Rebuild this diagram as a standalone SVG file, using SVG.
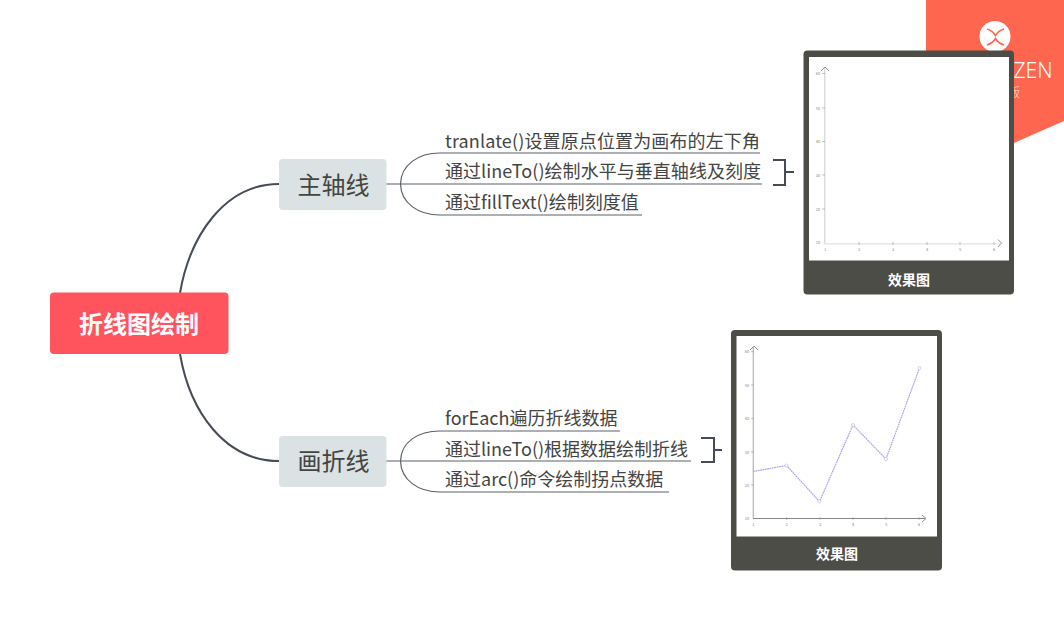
<svg xmlns="http://www.w3.org/2000/svg" width="1064" height="621" viewBox="0 0 1064 621">
<style>
text{font-family:"Noto Sans CJK SC","Liberation Sans",sans-serif}
.leaf{font-size:18px;fill:#444442}
.main{font-size:24px;fill:#444442;text-anchor:middle}
.cap{font-size:14px;font-weight:700;fill:#fff;text-anchor:middle}
.thick{fill:none;stroke:#454c55;stroke-width:2}
.thin{fill:none;stroke:#5a6068;stroke-width:1.2}
.brk{fill:none;stroke:#454c55;stroke-width:2}
.card{fill:#4d4d47}
.arr{fill:none;stroke:#666;stroke-width:.7}
.tk{font-size:4px;fill:#888;text-anchor:middle}
.tick{fill:none;stroke:#999;stroke-width:.6}
.pt{fill:#fff;stroke:#c6c2f0;stroke-width:.8}
</style>
<g id="badge">
<polygon points="926,0 1064,0 1064,121 1014,143 926,143" fill="#ff6650"/>
<circle cx="995" cy="36.500" r="15.500" fill="#fff"/>
<path d="M987,29 Q993,31 995.500,35.500 Q998,31 1004,29 M987,45 Q993,43 995.500,38.500 Q998,43 1004,45" fill="none" stroke="#ff6650" stroke-width="1.600"/>
<text x="1052.500" y="78" font-size="21" font-weight="300" fill="#fff" text-anchor="end" style="font-family:'Noto Sans','Liberation Sans',sans-serif">ZEN</text>
<text x="1008" y="97" font-size="12" font-weight="300" fill="#ffe3dd">版</text>
</g>
<g id="connectors">
<path class="thick" d="M180,293 C190,235 225,184 279,184"/>
<path class="thick" d="M180,354 C190,412 225,461 279,461"/>
<path class="thin" d="M386,184 H762"/>
<path class="thin" d="M400.500,184 C401,165 418,153 440,153 H760"/>
<path class="thin" d="M400.500,184 C401,203 418,215 440,215 H642"/>
<path class="thin" d="M386,461 H691"/>
<path class="thin" d="M400.500,461 C401,442 418,431 440,431 H620"/>
<path class="thin" d="M400.500,461 C401,480 418,492 440,492 H669"/>
<path class="brk" d="M773,160 H785 V185 H773 M785,172 H794"/>
<path class="brk" d="M701,438 H714 V462 H701 M714,450 H722"/>
</g>
<g id="root">
<rect x="50" y="292.500" width="178.500" height="61.500" rx="4" fill="#ff535d"/>
<text x="139" y="333" font-size="24" font-weight="700" fill="#fff" text-anchor="middle">折线图绘制</text>
</g>
<g id="topic-axis">
<rect x="279" y="159" width="107.500" height="51" rx="4" fill="#dae2e3"/>
<text class="main" x="333.500" y="194">主轴线</text>
</g>
<g id="topic-line">
<rect x="279" y="436" width="107.500" height="51" rx="4" fill="#dae2e3"/>
<text class="main" x="333.500" y="470">画折线</text>
</g>
<g id="leaf-1"><text class="leaf" x="445" y="148" textLength="315">tranlate()设置原点位置为画布的左下角</text></g>
<g id="leaf-2"><text class="leaf" x="445" y="178" textLength="316">通过lineTo()绘制水平与垂直轴线及刻度</text></g>
<g id="leaf-3"><text class="leaf" x="445" y="209">通过fillText()绘制刻度值</text></g>
<g id="leaf-4"><text class="leaf" x="445" y="425">forEach遍历折线数据</text></g>
<g id="leaf-5"><text class="leaf" x="445" y="456">通过lineTo()根据数据绘制折线</text></g>
<g id="leaf-6"><text class="leaf" x="445" y="486">通过arc()命令绘制拐点数据</text></g>
<g id="card-axis">
<rect class="card" x="803.500" y="50.500" width="210.500" height="244" rx="4"/>
<rect x="809" y="57" width="200" height="203.500" fill="#fff"/>
<path d="M824.700,68 V243.500" fill="none" stroke="#dcdcdc" stroke-width="1.500"/>
<path d="M824,243.800 H1000" fill="none" stroke="#e8e8e8" stroke-width="1.500"/>
<path class="arr" d="M821,71 L825,67 L829,71 M998,239.500 L1001.500,243 L998,247"/>
<path class="tick" d="M822,73.500 H825 M822,108 H825 M822,141.500 H825 M822,175 H825 M822,209 H825 M859,242 V245 M893,242 V245 M927,242 V245 M960,242 V245 M994,242 V245"/>
<g class="tks">
<text class="tk" x="818" y="75">60</text><text class="tk" x="818" y="110">50</text><text class="tk" x="818" y="143">40</text><text class="tk" x="818" y="177">30</text><text class="tk" x="818" y="211">20</text><text class="tk" x="818" y="244">10</text>
<text class="tk" x="825" y="251">1</text><text class="tk" x="859" y="251">2</text><text class="tk" x="893" y="251">3</text><text class="tk" x="927" y="251">4</text><text class="tk" x="960" y="251">5</text><text class="tk" x="994" y="251">6</text>
</g>
<text class="cap" x="909" y="285">效果图</text>
</g>
<g id="card-line">
<rect class="card" x="731" y="330" width="211" height="240.500" rx="4"/>
<rect x="736.500" y="336" width="200.500" height="200.500" fill="#fff"/>
<path d="M753.300,347 V518.500" fill="none" stroke="#b4b4b4" stroke-width="1.200"/>
<path d="M753,518.500 H925" fill="none" stroke="#888" stroke-width="1"/>
<path class="arr" d="M750,350 L754,346 L758,350 M922,515 L926,518.500 L922,522"/>
<path class="tick" d="M751,351.700 H754 M751,385 H754 M751,418.700 H754 M751,452 H754 M751,485 H754 M786.700,517 V520 M820,517 V520 M853,517 V520 M886,517 V520 M919,517 V520"/>
<g class="tks">
<text class="tk" x="747" y="353">60</text><text class="tk" x="747" y="387">50</text><text class="tk" x="747" y="420">40</text><text class="tk" x="747" y="454">30</text><text class="tk" x="747" y="487">20</text><text class="tk" x="747" y="520">10</text>
<text class="tk" x="753.300" y="526">1</text><text class="tk" x="786.700" y="526">2</text><text class="tk" x="820" y="526">3</text><text class="tk" x="853" y="526">4</text><text class="tk" x="886" y="526">5</text><text class="tk" x="919" y="526">6</text>
</g>
<polyline points="753,471.500 786.500,465.500 819.500,501.500 853,425 886,459 919.500,368" fill="none" stroke="#aaa4ec" stroke-width="1.200" stroke-dasharray="1.800 .6"/>
<circle class="pt" cx="786.500" cy="465.500" r="1.500"/><circle class="pt" cx="819.500" cy="501.500" r="1.500"/><circle class="pt" cx="853" cy="425" r="1.500"/><circle class="pt" cx="886" cy="459" r="1.500"/><circle class="pt" cx="919.500" cy="368" r="1.500"/>
<text class="cap" x="837" y="559">效果图</text>
</g>
</svg>
